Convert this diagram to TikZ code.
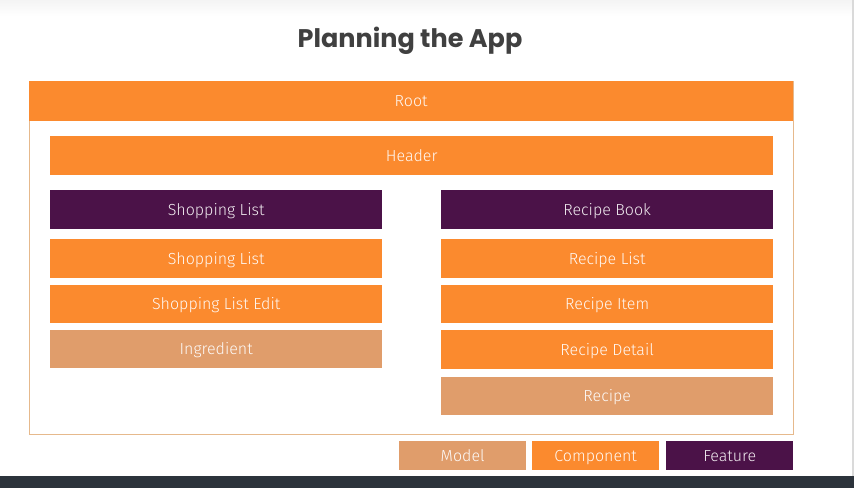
\documentclass[tikz,border=0pt]{standalone}
\usepackage{fontspec}
\setmainfont{Fira Sans Light}
\newfontfamily\titlefont{Poppins Bold}
\definecolor{compOrange}{HTML}{FB8A2E}
\definecolor{featPurple}{HTML}{4B1248}
\definecolor{modelTan}{HTML}{E09D6B}
\definecolor{frameTan}{HTML}{E6B98C}
\definecolor{titleGray}{HTML}{404040}
\definecolor{barDark}{HTML}{2C333B}
\definecolor{topGray}{HTML}{F4F4F4}
\definecolor{edgeGray}{HTML}{DADADA}
\tikzset{
  block/.style={draw=none, anchor=north west, inner sep=0pt,
    text height=11.2pt, text depth=0pt,
    text=white, font=\fontsize{16}{18}\selectfont},
  feature/.style={block, fill=featPurple, text=white!92!featPurple},
  component/.style={block, fill=compOrange, text=white!95!compOrange},
  model/.style={block, fill=modelTan, text=white!95!modelTan},
}
% a block spanning x1..x2 and y1..y2 (pixel units, y downwards)
\newcommand{\blk}[7]{%
  \node[#1, minimum width=#4-#3, minimum height=#6-#5] (#2) at (#3,#5) {#7};}
\begin{document}
\begin{tikzpicture}[x=1pt, y=-1pt]
  \useasboundingbox (0,0) rectangle (854,488);
  % page background
  \fill[white] (0,0) rectangle (854,488);
  \shade[top color=topGray, bottom color=white] (0,0) rectangle (854,16);
  \draw[edgeGray, line width=1.2pt] (853,0) -- (853,476);
  \fill[barDark] (0,476) rectangle (854,488);

  % title
  \node[font=\titlefont\fontsize{25.5}{28}\selectfont, text=titleGray] (title) at (410,41) {Planning the App};

  % outer frame
  \node[draw=frameTan, line width=0.8pt, anchor=north west, inner sep=0pt,
        minimum width=764, minimum height=353] (frame) at (29,81) {};
  \blk{component}{root}{29}{793}{81}{121}{Root}
  \blk{component}{header}{50}{773}{136}{175}{Header}

  % shopping list feature
  \blk{feature}{shop}{50}{382}{190}{229}{Shopping List}
  \blk{component}{shoplist}{50}{382}{239}{278}{Shopping List}
  \blk{component}{shopedit}{50}{382}{285}{323}{Shopping List Edit}
  \blk{model}{ingredient}{50}{382}{330}{368}{Ingredient}

  % recipe book feature
  \blk{feature}{book}{441}{773}{190}{229}{Recipe Book}
  \blk{component}{reclist}{441}{773}{239}{278}{Recipe List}
  \blk{component}{recitem}{441}{773}{285}{323}{Recipe Item}
  \blk{component}{recdetail}{441}{773}{330}{369}{Recipe Detail}
  \blk{model}{recipe}{441}{773}{377}{415}{Recipe}

  % legend
  \blk{model}{legmodel}{399}{526}{441}{470}{Model}
  \blk{component}{legcomp}{532}{659}{441}{470}{Component}
  \blk{feature}{legfeat}{666}{793}{441}{470}{Feature}
\end{tikzpicture}
\end{document}
